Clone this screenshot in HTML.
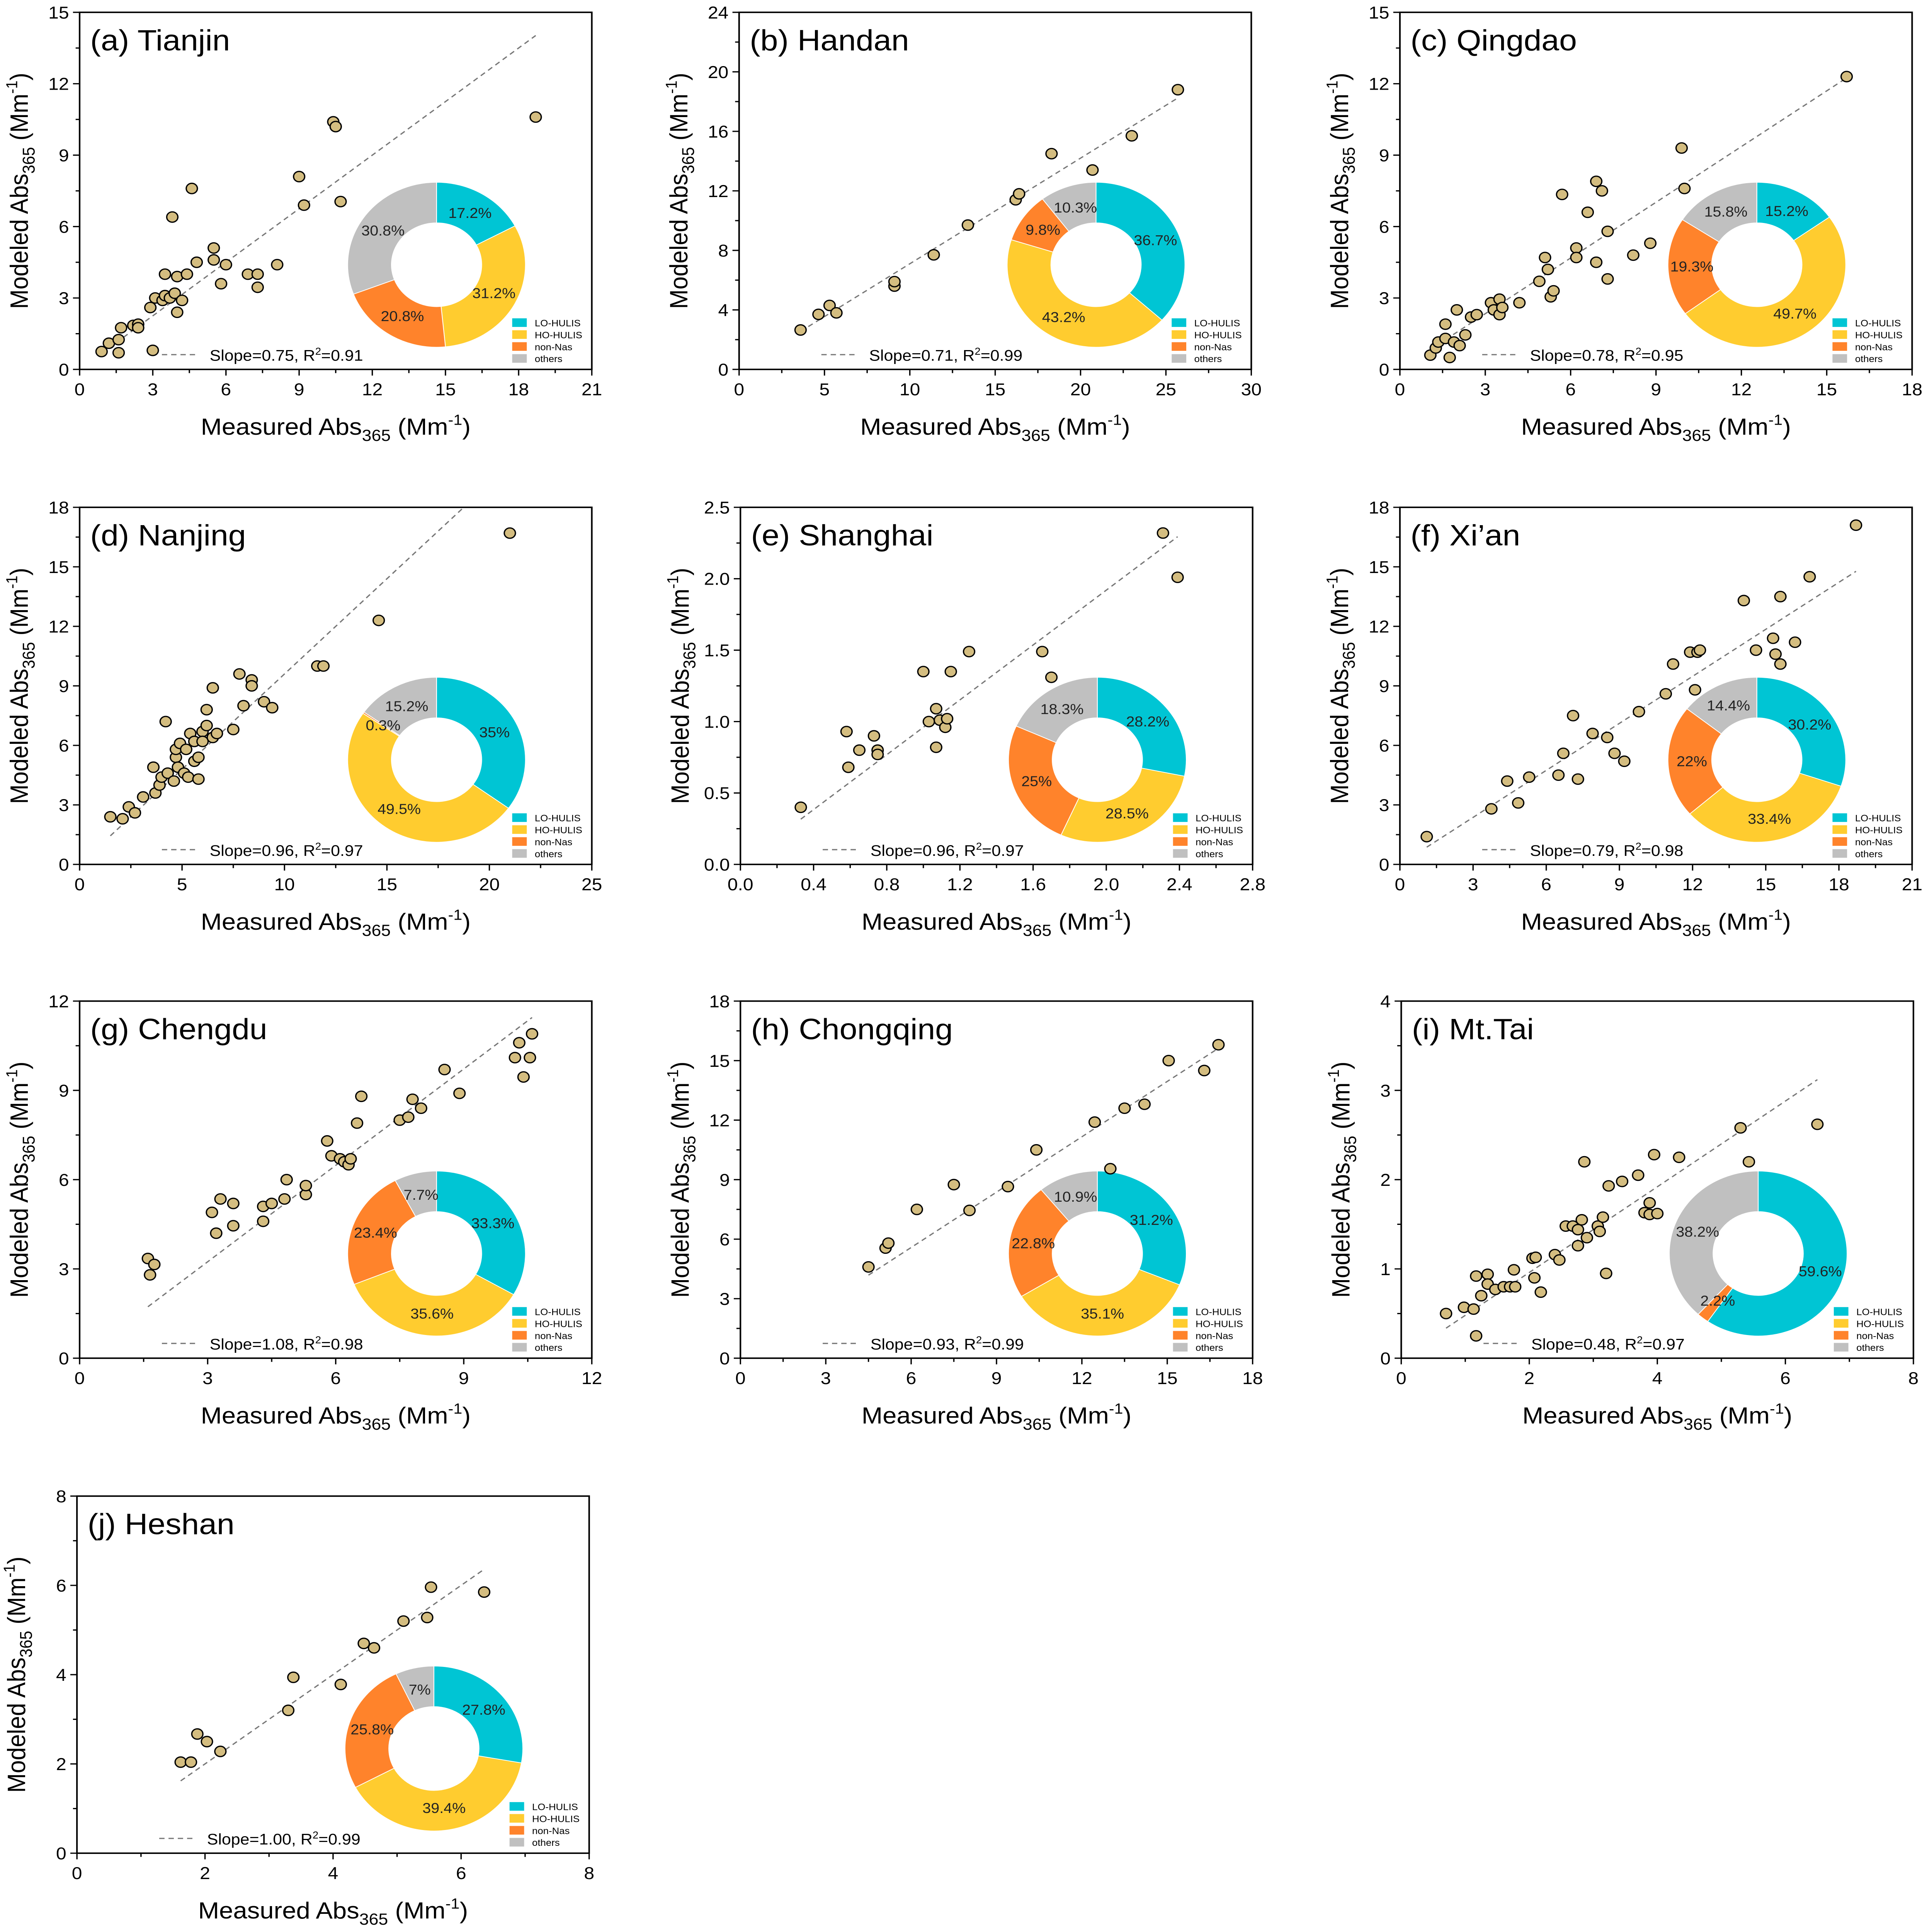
<!DOCTYPE html>
<html><head><meta charset="utf-8"><style>
html,body{margin:0;padding:0;background:#fff;overflow:hidden;width:100vw;height:100vh}
svg{display:block;width:100vw;height:100vh}
text{font-family:"Liberation Sans",sans-serif}
</style></head>
<body>
<svg id="fig" xmlns="http://www.w3.org/2000/svg" viewBox="0 0 1456 1569" preserveAspectRatio="none"></svg>
<script>
// ---- data ----
const tianjinX=[0.9,1.2,1.6,1.6,1.7,2.2,2.4,2.4,2.9,3.0,3.1,3.4,3.5,3.5,3.7,3.9,3.8,4.0,4.0,4.2,4.4,4.6,4.8,5.5,5.5,5.8,6.0,6.9,7.3,7.3,8.1,9.0,9.2,10.4,10.5,10.7,18.7];
const tianjinY=[0.75,1.1,1.25,0.7,1.75,1.85,1.9,1.75,2.6,0.8,3.0,2.9,3.1,4.0,3.0,3.2,6.4,3.9,2.4,2.9,4.0,7.6,4.5,5.1,4.6,3.6,4.4,4.0,4.0,3.45,4.4,8.1,6.9,10.4,10.2,7.05,10.6];
const tianjinPie=[17.2,31.2,20.8,30.8];
const handanX=[3.6,4.65,5.3,5.7,9.1,9.1,11.4,13.4,16.2,16.4,18.3,20.7,23.0,25.7];
const handanY=[2.65,3.7,4.3,3.8,5.6,5.9,7.7,9.7,11.4,11.8,14.5,13.4,15.7,18.8];
const handanPie=[36.7,43.2,9.8,10.3];
const qingdaoX=[1.07,1.26,1.35,1.6,1.75,1.6,1.9,2.1,2.0,2.3,2.5,2.7,3.2,3.5,3.3,3.5,3.6,4.2,4.9,5.1,5.2,5.3,5.4,5.7,6.2,6.2,6.6,6.9,6.9,7.1,7.3,7.3,8.2,8.8,9.9,10.0,15.7];
const qingdaoY=[0.6,0.9,1.15,1.3,0.5,1.9,1.15,1.0,2.5,1.45,2.2,2.3,2.8,2.95,2.5,2.3,2.6,2.8,3.7,4.7,4.2,3.05,3.3,7.35,5.1,4.7,6.6,7.9,4.5,7.5,3.8,5.8,4.8,5.3,9.3,7.6,12.3];
const qingdaoPie=[15.2,49.7,19.3,15.8];
const nanjingX=[1.5,2.1,2.4,2.7,3.1,3.6,3.7,3.9,4.0,4.2,4.3,4.6,4.7,4.7,4.8,4.9,5.1,5.2,5.3,5.4,5.6,5.6,5.8,5.8,6.0,6.0,6.2,6.2,6.5,6.5,6.7,7.5,7.8,8.0,8.4,8.4,9.0,9.4,11.6,11.9,14.6,21.0];
const nanjingY=[2.4,2.3,2.9,2.6,3.4,4.9,3.6,4.0,4.4,7.2,4.6,4.2,5.4,5.8,4.9,6.1,4.6,5.8,4.4,6.6,5.2,6.2,5.4,4.3,6.7,6.2,7.0,7.8,8.9,6.4,6.6,6.8,9.6,8.0,9.3,9.0,8.2,7.9,10.0,10.0,12.3,16.7];
const nanjingPie=[35,49.5,0.3,15.2];
const shanghaiX=[0.33,0.58,0.59,0.65,0.73,0.75,0.75,1.0,1.03,1.07,1.07,1.09,1.12,1.13,1.15,1.25,1.65,1.7,2.31,2.39];
const shanghaiY=[0.40,0.93,0.68,0.80,0.90,0.80,0.77,1.35,1.0,0.82,1.09,1.01,0.96,1.02,1.35,1.49,1.49,1.31,2.32,2.01];
const shanghaiPie=[28.2,28.5,25,18.3];
const xianX=[1.1,3.75,4.4,4.85,5.3,6.5,6.7,7.1,7.3,7.9,8.5,8.8,9.2,9.8,10.9,11.2,11.9,12.1,12.2,12.3,14.1,14.6,15.3,15.4,15.6,15.6,16.2,16.8,18.7];
const xianY=[1.4,2.8,4.2,3.1,4.4,4.5,5.6,7.5,4.3,6.6,6.4,5.6,5.2,7.7,8.6,10.1,10.7,8.8,10.7,10.8,13.3,10.8,11.4,10.6,10.1,13.5,11.2,14.5,17.1];
const xianPie=[30.2,33.4,22,14.4];
const chengduX=[1.6,1.65,1.75,3.1,3.2,3.3,3.6,3.6,4.3,4.3,4.5,4.8,4.85,5.3,5.3,5.8,5.9,6.1,6.2,6.3,6.35,6.5,6.6,7.5,7.7,7.8,8.0,8.55,8.9,10.2,10.3,10.4,10.55,10.6];
const chengduY=[3.35,2.8,3.15,4.9,4.2,5.35,4.45,5.2,5.1,4.6,5.2,5.35,6.0,5.5,5.8,7.3,6.8,6.7,6.6,6.5,6.7,7.9,8.8,8.0,8.1,8.7,8.4,9.7,8.9,10.1,10.6,9.45,10.1,10.9];
const chengduPie=[33.3,35.6,23.4,7.7];
const chongqingX=[4.5,5.1,5.2,6.2,7.5,8.05,9.4,10.4,12.45,13.0,13.5,14.2,15.05,16.3,16.8];
const chongqingY=[4.6,5.55,5.8,7.5,8.75,7.45,8.65,10.5,11.9,9.55,12.6,12.8,15.0,14.5,15.8];
const chongqingPie=[31.2,35.1,22.8,10.9];
const mttaiX=[0.7,0.98,1.13,1.17,1.17,1.25,1.35,1.35,1.47,1.6,1.7,1.76,1.78,2.05,2.1,2.08,2.18,2.4,2.47,2.57,2.68,2.76,2.76,2.82,2.86,2.9,3.07,3.1,3.15,3.2,3.24,3.45,3.7,3.8,3.88,3.88,3.95,4.0,4.34,5.3,5.43,6.5];
const mttaiY=[0.5,0.57,0.55,0.92,0.25,0.7,0.94,0.83,0.77,0.8,0.8,0.99,0.8,1.12,1.13,0.9,0.74,1.16,1.1,1.48,1.48,1.44,1.26,1.55,2.2,1.35,1.48,1.42,1.58,0.95,1.93,1.98,2.05,1.63,1.74,1.61,2.28,1.62,2.25,2.58,2.2,2.62];
const mttaiPie=[59.6,0,2.2,38.2];
const heshanX=[1.62,1.78,1.88,2.03,2.24,3.3,3.38,4.12,4.48,4.64,5.1,5.47,5.53,6.36];
const heshanY=[2.04,2.04,2.67,2.5,2.28,3.2,3.94,3.78,4.7,4.6,5.2,5.28,5.96,5.85];
const heshanPie=[27.8,39.4,25.8,7];
const slopes=[0.75,0.71,0.78,0.96,0.96,0.79,1.08,0.93,0.48,1.00];
const r2s=[0.91,0.99,0.95,0.97,0.97,0.98,0.98,0.99,0.97,0.99];
const pieLabels=["LO-HULIS","HO-HULIS","non-Nas","others"];
const pieColors=["#00C5D4","#FFCC2F","#FF832B","#C0C0C0"];

// ---- layout ----
const panels=[
 {t:"(a) Tianjin",x:tianjinX,y:tianjinY,p:tianjinPie,xm:21,xs:3,ym:15,ys:3,L:60,T:10,d:0},
 {t:"(b) Handan",x:handanX,y:handanY,p:handanPie,xm:30,xs:5,ym:24,ys:4,L:557,T:10,d:0},
 {t:"(c) Qingdao",x:qingdaoX,y:qingdaoY,p:qingdaoPie,xm:18,xs:3,ym:15,ys:3,L:1055,T:10,d:0},
 {t:"(d) Nanjing",x:nanjingX,y:nanjingY,p:nanjingPie,xm:25,xs:5,ym:18,ys:3,L:60,T:412,d:0},
 {t:"(e) Shanghai",x:shanghaiX,y:shanghaiY,p:shanghaiPie,xm:2.8,xs:0.4,ym:2.5,ys:0.5,L:558,T:412,d:1},
 {t:"(f) Xi\u2019an",x:xianX,y:xianY,p:xianPie,xm:21,xs:3,ym:18,ys:3,L:1055,T:412,d:0},
 {t:"(g) Chengdu",x:chengduX,y:chengduY,p:chengduPie,xm:12,xs:3,ym:12,ys:3,L:60,T:813,d:0},
 {t:"(h) Chongqing",x:chongqingX,y:chongqingY,p:chongqingPie,xm:18,xs:3,ym:18,ys:3,L:558,T:813,d:0},
 {t:"(i) Mt.Tai",x:mttaiX,y:mttaiY,p:mttaiPie,xm:8,xs:2,ym:4,ys:1,L:1056,T:813,d:0},
 {t:"(j) Heshan",x:heshanX,y:heshanY,p:heshanPie,xm:8,xs:2,ym:8,ys:2,L:58,T:1215,d:0}
];
const W=386,H=290;
const NS="http://www.w3.org/2000/svg";
const svg=document.getElementById("fig");
function mk(tag,attrs,parent){const e=document.createElementNS(NS,tag);for(const k in attrs)e.setAttribute(k,attrs[k]);(parent||svg).appendChild(e);return e;}
function fmt(v,d){return d?v.toFixed(1):String(Math.round(v*10)/10);}

panels.forEach((P,i)=>{
 const g=mk("g",{});
 
 
 const sx=v=>P.L+v/P.xm*W, sy=v=>P.T+H-v/P.ym*H;
 const B=P.T+H;
 const fr=mk("rect",{x:P.L,y:P.T,width:W,height:H,fill:"none",stroke:"#000","stroke-width":1.2},g);
 
 
 const nx=Math.round(P.xm/P.xs);
 for(let k=0;k<=nx;k++){
  const v=k*P.xs,X=sx(v);
  const tk=mk("line",{x1:X,y1:B,x2:X,y2:B+5,stroke:"#000","stroke-width":1},g);
  
  
  if(k<nx){const m=sx(v+P.xs/2);mk("line",{x1:m,y1:B,x2:m,y2:B+3,stroke:"#000","stroke-width":1},g);}
  const tl=mk("text",{x:X,y:B+21,"font-size":14,"text-anchor":"middle"},g);
  tl.textContent=fmt(v,P.d);
  
  
 }
 const ny=Math.round(P.ym/P.ys);
 for(let k=0;k<=ny;k++){
  const v=k*P.ys,Y=sy(v);
  const tk=mk("line",{x1:P.L,y1:Y,x2:P.L-5,y2:Y,stroke:"#000","stroke-width":1},g);
  
  
  if(k<ny){const m=sy(v+P.ys/2);mk("line",{x1:P.L,y1:m,x2:P.L-3,y2:m,stroke:"#000","stroke-width":1},g);}
  const tl=mk("text",{x:P.L-8,y:Y+5,"font-size":14,"text-anchor":"end"},g);
  tl.textContent=fmt(v,P.d||P.ys<1);
  
  
 }
 const xt=mk("text",{x:P.L+W/2,y:B+53,"font-size":19,"text-anchor":"middle"},g);
 xt.innerHTML='Measured Abs<tspan font-size="13" dy="5">365</tspan><tspan dy="-5"> (Mm</tspan><tspan font-size="12" dy="-8">-1</tspan><tspan dy="8">)</tspan>';
 
 
 const yt=mk("text",{x:0,y:0,"font-size":19,"text-anchor":"middle",transform:`translate(${P.L-39},${P.T+H/2}) rotate(-90)`},g);
 yt.innerHTML='Modeled Abs<tspan font-size="13" dy="5">365</tspan><tspan dy="-5"> (Mm</tspan><tspan font-size="12" dy="-8">-1</tspan><tspan dy="8">)</tspan>';
 
 
 const tt=mk("text",{x:P.L+8,y:P.T+31,"font-size":24},g);
 tt.textContent=P.t;
 
 
 const cx=P.L+269,cy=P.T+205,R=67,r=34;
 let acc=0;const tot=P.p.reduce((a,b)=>a+b,0);
 const pt=(rr,a)=>[cx+rr*Math.sin(a),cy-rr*Math.cos(a)];
 const labs=[];
 P.p.forEach((v,j)=>{
  if(v<=0){return;}
  const a0=acc/tot*2*Math.PI,a1=(acc+v)/tot*2*Math.PI;acc+=v;
  const lg=(a1-a0)>Math.PI?1:0;
  const [x0,y0]=pt(R,a0),[x1,y1]=pt(R,a1),[x2,y2]=pt(r,a1),[x3,y3]=pt(r,a0);
  const s=mk("path",{d:`M${x0},${y0}A${R},${R} 0 ${lg} 1 ${x1},${y1}L${x2},${y2}A${r},${r} 0 ${lg} 0 ${x3},${y3}Z`,fill:pieColors[j],stroke:"#fff","stroke-width":0.6},g);
  
  
  labs.push([v,(a0+a1)/2]);
 });
 labs.forEach(([v,am])=>{
  const [lx,ly]=pt(49,am);
  const lt=mk("text",{x:lx,y:ly+4,"font-size":11.5,"text-anchor":"middle",fill:"#222"},g);
  lt.textContent=v+"%";
  
  
 });
 pieLabels.forEach((lab,j)=>{
  const ly=P.T+252+j*9.7;
  const sq=mk("rect",{x:P.L+326,y:ly-3.5,width:11,height:7,fill:pieColors[j]},g);
  
  
  const lt=mk("text",{x:P.L+343,y:ly+3,"font-size":7.5},g);
  lt.textContent=lab;
  
  
 });
 const xmin=Math.min(...P.x),xmax=Math.max(...P.x);
 let xe=xmax; if(slopes[i]*xe>P.ym) xe=P.ym/slopes[i];
 const fl=mk("line",{x1:sx(xmin),y1:sy(slopes[i]*xmin),x2:sx(xe),y2:sy(slopes[i]*xe),stroke:"#777","stroke-width":1,"stroke-dasharray":"4,3"},g);
 
 
 P.x.forEach((xv,j)=>{
  const c=mk("circle",{cx:sx(xv),cy:sy(P.y[j]),r:4.2,fill:"#D4BD80",stroke:"#000","stroke-width":1},g);
  
  
 });
 const sl=mk("line",{x1:P.L+62,y1:P.T+278,x2:P.L+88,y2:P.T+278,stroke:"#777","stroke-width":1,"stroke-dasharray":"4,3"},g);
 
 
 const st=mk("text",{x:P.L+98,y:P.T+283,"font-size":12.5},g);
 st.innerHTML=`Slope=${slopes[i].toFixed(2)}, R<tspan font-size="8" dy="-5">2</tspan><tspan dy="5">=${r2s[i].toFixed(2)}</tspan>`;
 
 
});
</script>
</body></html>
